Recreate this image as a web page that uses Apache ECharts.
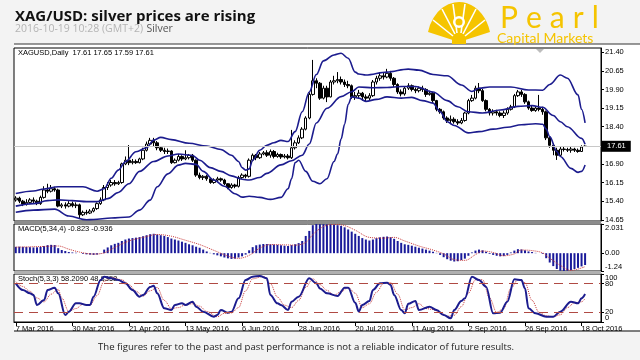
<!DOCTYPE html>
<html><head><meta charset="utf-8">
<script src="https://cdn.jsdelivr.net/npm/echarts@6/dist/echarts.min.js"></script>
<style>html,body{margin:0;padding:0;background:#f3f3f3;}#c{width:640px;height:360px;}</style>
</head><body><div id="c"></div>
<script>
// ---- data ----
const tickLabels = ['7 Mar 2016','30 Mar 2016','21 Apr 2016','13 May 2016','6 Jun 2016','28 Jun 2016','20 Jul 2016','11 Aug 2016','2 Sep 2016','26 Sep 2016','18 Oct 2016'];
const priceTicks = [14.65,15.40,16.15,16.90,17.65,18.40,19.15,19.90,20.65,21.40];
const priceLabels = [14.65,15.40,16.15,16.90,18.40,19.15,19.90,20.65,21.40];
const macdTicks = [-1.24,0,2.031];
const stochEdgeTicks = [0,100];
const stochLevels = [20,80];
// [open, close, low, high]
const ohlc = [
[15.45,15.52,15.38,15.60],[15.52,15.40,15.32,15.58],[15.40,15.28,15.20,15.45],[15.28,15.35,15.22,15.48],[15.35,15.45,15.30,15.52],
[15.45,15.40,15.32,15.55],[15.40,15.30,15.24,15.46],[15.30,15.55,15.25,15.62],[15.55,15.85,15.50,16.00],[15.85,15.80,15.72,16.10],
[15.80,15.90,15.75,16.05],[15.90,15.85,15.78,15.98],[15.85,15.20,15.15,15.90],[15.20,15.25,15.12,15.32],[15.25,15.20,15.10,15.35],
[15.20,15.30,15.15,15.40],[15.30,15.22,15.15,15.38],[15.22,15.25,15.12,15.35],[15.25,14.85,14.72,15.30],[14.85,14.95,14.80,15.02],
[14.95,14.92,14.85,15.05],[14.92,15.00,14.88,15.08],[15.00,15.10,14.95,15.15],[15.10,15.30,15.05,15.35],[15.30,15.45,15.25,15.55],
[15.45,15.95,15.40,16.05],[15.95,16.05,15.85,16.17],[16.05,16.15,15.98,16.25],[16.15,16.10,16.02,16.25],[16.10,16.15,16.05,16.22],
[16.15,16.90,16.10,16.95],[16.90,17.05,16.85,17.20],[17.05,16.95,16.85,17.66],[16.95,17.00,16.88,17.10],[17.00,16.95,16.90,17.08],
[16.95,17.10,16.92,17.15],[17.10,17.45,17.05,17.55],[17.45,17.70,17.40,17.80],[17.70,17.85,17.65,17.95],[17.85,17.75,17.62,17.95],
[17.75,17.55,17.45,17.82],[17.55,17.45,17.38,17.62],[17.45,17.40,17.30,17.55],[17.40,17.42,17.30,17.52],[17.42,16.95,16.90,17.45],
[16.95,17.05,16.92,17.12],[17.05,17.20,17.00,17.30],[17.20,17.10,17.02,17.25],[17.10,17.15,17.05,17.45],[17.15,17.25,17.08,17.30],
[17.25,17.05,16.98,17.30],[17.05,16.45,16.38,17.08],[16.45,16.35,16.28,16.55],[16.35,16.40,16.25,16.45],[16.40,16.30,16.22,16.45],
[16.30,16.15,16.10,16.35],[16.15,16.25,16.10,16.32],[16.25,16.30,16.18,16.38],[16.30,16.25,16.18,16.35],[16.25,16.10,16.05,16.30],
[16.10,15.95,15.88,16.12],[15.95,16.05,15.90,16.12],[16.05,16.00,15.92,16.10],[16.00,16.35,15.95,16.42],[16.35,16.45,16.30,16.52],
[16.45,16.40,16.32,16.50],[16.40,17.05,16.35,17.12],[17.05,17.25,17.00,17.32],[17.25,17.15,17.05,17.30],[17.15,17.30,17.10,17.38],
[17.30,17.35,17.25,17.42],[17.35,17.25,17.18,17.45],[17.25,17.40,17.15,17.48],[17.40,17.20,17.12,17.46],[17.20,17.28,17.15,17.35],
[17.28,17.18,17.10,17.32],[17.18,17.22,17.12,17.30],[17.22,17.15,17.08,17.30],[17.15,17.55,17.10,18.27],[17.55,17.75,17.48,17.85],
[17.75,17.95,17.70,18.05],[17.95,18.30,17.90,18.38],[18.30,18.75,18.25,18.82],[18.75,19.70,18.70,19.78],[19.70,20.25,19.65,21.09],
[20.25,20.15,19.95,20.35],[20.15,19.55,19.48,20.20],[19.55,19.95,19.50,20.05],[19.95,19.60,19.39,20.05],[19.60,20.20,19.58,20.28],
[20.20,20.25,20.10,20.45],[20.25,20.30,20.15,20.60],[20.30,20.20,20.10,20.42],[20.20,20.10,20.00,20.30],[20.10,20.05,19.95,20.25],
[20.05,19.60,19.52,20.10],[19.60,19.65,19.48,19.80],[19.65,19.75,19.55,19.88],[19.75,19.60,19.45,19.80],[19.60,19.55,19.42,19.70],
[19.55,19.65,19.45,19.75],[19.65,20.20,19.60,20.28],[20.20,20.35,20.10,20.45],[20.35,20.45,20.25,20.60],[20.45,20.40,20.30,20.60],
[20.40,20.55,20.35,20.73],[20.55,20.35,20.25,20.65],[20.35,20.10,20.00,20.40],[20.10,19.80,19.72,20.15],[19.80,19.72,19.62,19.90],
[19.72,19.95,19.65,20.02],[19.95,20.05,19.88,20.15],[20.05,19.90,19.82,20.10],[19.90,19.85,19.75,19.98],[19.85,19.95,19.78,20.02],
[19.95,19.90,19.80,20.05],[19.90,19.70,19.60,19.95],[19.70,19.75,19.65,19.85],[19.75,19.45,19.35,19.80],[19.45,19.10,19.02,19.48],
[19.10,19.00,18.92,19.15],[19.00,18.75,18.68,19.05],[18.75,18.65,18.55,18.82],[18.65,18.70,18.50,18.85],[18.70,18.60,18.52,18.78],
[18.60,18.55,18.47,18.70],[18.55,18.65,18.50,18.75],[18.65,18.95,18.60,19.00],[18.95,19.45,18.90,19.52],[19.45,19.55,19.40,19.68],
[19.55,19.95,19.50,20.05],[19.95,19.85,19.75,20.16],[19.85,19.45,19.40,19.92],[19.45,19.10,19.02,19.50],[19.10,18.95,18.85,19.15],
[18.95,19.00,18.85,19.10],[19.00,18.95,18.85,19.08],[18.95,18.85,18.78,19.02],[18.85,18.95,18.75,19.05],[18.95,19.10,18.88,19.18],
[19.10,19.20,19.05,19.28],[19.20,19.65,19.15,19.72],[19.65,19.80,19.60,19.88],[19.80,19.70,19.60,19.88],[19.70,19.40,19.32,19.75],
[19.40,19.15,19.08,19.45],[19.15,19.05,19.00,19.25],[19.05,19.15,19.00,19.22],[19.15,19.10,19.02,19.68],[19.10,19.00,18.88,19.20],
[19.00,17.95,17.86,19.05],[17.95,17.65,17.55,18.00],[17.65,17.45,17.25,17.72],[17.45,17.25,17.06,17.55],[17.25,17.50,17.20,17.58],
[17.50,17.48,17.40,17.62],[17.48,17.45,17.38,17.55],[17.45,17.50,17.35,17.58],[17.50,17.45,17.38,17.55],[17.45,17.40,17.35,17.52],
[17.40,17.58,17.38,17.65],[17.61,17.61,17.59,17.65]
];
// Bollinger bands: [barIndex, price]
const bbUpper = [[0,15.71],[5,15.81],[8,15.89],[12,15.98],[19,15.98],[23,15.80],[25,15.90],[27,16.32],[29,16.65],[31,16.99],[34,17.39],[37,17.55],[39,17.86],[41,17.97],[44,17.88],[49,17.73],[54,17.62],[58,17.48],[61,17.25],[63,17.0],[64,16.75],[65,16.65],[66,16.7],[67,17.05],[69,17.45],[71,17.65],[73,17.75],[75,17.85],[77,17.8],[79,18.2],[81,19.0],[83,19.8],[85,20.5],[87,21.05],[90,21.29],[92,21.36],[94,21.16],[96,20.6],[97,20.52],[99,20.48],[105,20.6],[111,20.72],[114,20.68],[118,20.5],[122,20.45],[126,20.08],[129,19.82],[131,19.95],[134,20.0],[140,20.0],[145,19.88],[149,19.87],[151,20.1],[154,20.48],[156,20.35],[159,19.68],[160,19.1],[161,18.55]];
const bbMiddle = [[0,15.2],[5,15.3],[9,15.42],[12,15.45],[16,15.42],[20,15.38],[23,15.38],[26,15.5],[29,15.75],[32,16.1],[35,16.6],[39,17.0],[43,17.22],[46,17.3],[50,17.24],[52,17.05],[55,16.75],[58,16.6],[61,16.42],[64,16.28],[66,16.25],[69,16.35],[71,16.52],[75,16.86],[78,17.03],[81,17.25],[83,17.7],[85,18.55],[88,19.14],[92,19.61],[95,19.81],[97,20.0],[101,19.97],[105,19.98],[109,20.02],[113,20.02],[118,19.8],[122,19.45],[125,19.2],[128,19.0],[132,18.95],[137,19.07],[142,19.22],[146,19.25],[149,19.18],[152,18.85],[154,18.6],[156,18.4],[160,17.93],[161,17.69]];
const bbLower = [[0,14.95],[5,15.04],[11,15.08],[15,14.8],[20,14.65],[22,14.66],[27,14.72],[32,14.76],[35,15.04],[38,15.44],[40,15.98],[43,16.5],[46,16.85],[48,16.92],[51,16.88],[53,16.6],[56,16.25],[59,16.0],[62,15.7],[64,15.56],[66,15.6],[69,15.55],[72,15.47],[75,15.55],[77,15.9],[78,16.3],[79,16.95],[80,17.05],[82,16.6],[84,16.2],[86,16.1],[88,16.3],[90,17.0],[91,17.3],[92,17.9],[93,18.5],[94,19.3],[95,19.6],[97,19.55],[99,19.42],[102,19.5],[105,19.6],[109,19.55],[112,19.58],[115,19.45],[118,19.35],[120,19.0],[122,18.6],[124,18.45],[128,18.15],[131,18.2],[135,18.3],[139,18.38],[143,18.48],[147,18.52],[149,18.5],[150,18.3],[151,18.0],[153,17.4],[154,17.2],[157,16.72],[159,16.56],[160,16.6],[161,16.86]];
const macdHist = [0.44,0.45,0.44,0.43,0.42,0.40,0.41,0.44,0.50,0.56,0.58,0.57,0.35,0.22,0.15,0.08,0.05,0.03,0.00,-0.05,-0.08,-0.10,-0.12,-0.10,-0.02,0.25,0.40,0.55,0.65,0.72,0.85,0.95,1.02,1.05,1.08,1.12,1.18,1.25,1.32,1.35,1.30,1.25,1.20,1.12,1.02,0.95,0.88,0.80,0.72,0.62,0.55,0.45,0.38,0.25,0.12,0.02,-0.08,-0.15,-0.22,-0.30,-0.36,-0.40,-0.38,-0.30,-0.22,-0.10,0.20,0.42,0.55,0.60,0.64,0.64,0.62,0.60,0.58,0.55,0.52,0.50,0.56,0.62,0.70,0.85,1.20,1.55,1.95,2.031,2.02,2.02,2.01,2.00,1.98,1.95,1.90,1.80,1.65,1.50,1.35,1.20,1.05,0.95,0.88,0.95,1.05,1.10,1.14,1.16,1.12,1.00,0.85,0.72,0.62,0.58,0.52,0.45,0.38,0.32,0.25,0.18,0.10,0.02,-0.12,-0.28,-0.42,-0.52,-0.58,-0.56,-0.48,-0.38,-0.18,0.05,0.18,0.25,0.20,0.10,-0.05,-0.12,-0.18,-0.22,-0.20,-0.12,0.05,0.18,0.28,0.26,0.20,0.12,0.08,0.02,0.00,-0.05,-0.35,-0.65,-0.90,-1.10,-1.22,-1.24,-1.22,-1.18,-1.10,-1.02,-0.92,-0.823];
const macdSignal = [[0,0.42],[8,0.47],[12,0.5],[15,0.28],[18,0.08],[22,-0.06],[25,0.02],[28,0.4],[32,0.85],[36,1.1],[40,1.3],[44,1.18],[48,0.9],[52,0.6],[56,0.2],[60,-0.2],[63,-0.36],[66,-0.15],[69,0.35],[72,0.6],[76,0.58],[79,0.56],[82,0.75],[84,1.3],[87,1.85],[90,2.0],[93,1.92],[96,1.6],[100,1.1],[104,1.05],[107,1.1],[110,0.85],[114,0.5],[118,0.22],[121,-0.05],[124,-0.45],[127,-0.5],[130,-0.1],[132,0.15],[135,0.05],[138,-0.18],[141,-0.05],[143,0.22],[146,0.18],[149,0.02],[151,-0.35],[154,-0.85],[157,-1.2],[161,-0.936]];
const stochMain = [[0,80.6],[2,66.7],[4,59.7],[5,56.3],[6,35.4],[8,45.8],[9,66.7],[11,71.5],[12,59.7],[14,14.6],[15,21.5],[17,38.9],[18,38.9],[20,35.4],[21,35.4],[22,52.8],[24,87.5],[25,94.4],[27,91],[29,87.5],[31,80.6],[33,66.7],[35,52.8],[36,56.3],[38,73],[39,75.7],[40,59.7],[42,28.5],[44,25],[45,35.4],[47,38.9],[48,35.4],[50,42.4],[51,31.9],[53,21.5],[56,11.1],[57,14.6],[58,25],[60,19.4],[61,21.5],[63,49.3],[65,87.5],[67,94.4],[69,95.8],[71,91],[72,56.3],[74,38.9],[75,35.4],[77,25],[78,42.4],[80,52.8],[83,91],[85,80.6],[86,70],[88,59.7],[91,54.2],[93,71.5],[94,71.5],[96,40],[97,22],[98,35.4],[100,43.8],[101,66.7],[103,80.6],[105,81.9],[106,77],[107,56.3],[109,25],[110,18.1],[111,38],[113,43.8],[114,25],[117,31.9],[119,25],[121,14.6],[123,7.6],[124,25],[126,43.8],[127,49.3],[129,94.4],[131,87.5],[133,73.6],[135,18.1],[137,19.4],[139,42.4],[141,88.9],[143,87.5],[144,70.1],[145,28.5],[147,18.1],[150,11.1],[152,11.1],[154,21.5],[157,42.4],[159,38.9],[160,49.3],[161,58.2]];
const stochSignal = [[0,84],[2,74],[4,64],[6,50],[8,42],[10,58],[12,68],[13,50],[15,22],[17,28],[19,37],[21,35],[23,55],[25,85],[27,93],[30,88],[32,78],[34,64],[36,54],[38,65],[40,72],[42,45],[44,28],[46,30],[48,36],[50,38],[52,33],[54,22],[57,11],[59,18],[61,19],[63,30],[65,65],[67,90],[70,95],[72,80],[74,52],[76,35],[78,30],[80,45],[82,72],[84,90],[86,78],[88,66],[90,56],[92,63],[94,72],[96,60],[98,30],[100,38],[102,62],[104,80],[106,82],[108,58],[110,25],[112,30],[114,38],[116,28],[118,26],[120,20],[122,12],[124,14],[126,32],[128,60],[130,88],[132,88],[134,50],[136,20],[138,28],[140,70],[142,88],[144,82],[146,45],[148,20],[150,13],[152,11],[154,15],[156,30],[158,40],[160,42],[161,48.8]];

// ---- categories: trading days (weekdays, Good Friday closed) + empty right shift ----
const MON = ['Jan','Feb','Mar','Apr','May','Jun','Jul','Aug','Sep','Oct','Nov','Dec'];
const categories = [];
(function(){
  const d = new Date(Date.UTC(2016,2,7));
  while (categories.length < ohlc.length) {
    const wd = d.getUTCDay();
    const holiday = d.getUTCMonth()===2 && d.getUTCDate()===25;
    if (wd!==0 && wd!==6 && !holiday) categories.push(d.getUTCDate()+' '+MON[d.getUTCMonth()]+' '+d.getUTCFullYear());
    d.setUTCDate(d.getUTCDate()+1);
  }
  for (let k=1;k<=4;k++) categories.push('shift'+k);
})();
const lastClose = ohlc[ohlc.length-1][1];

const NAVY = '#1c1c8e';
const RED = '#c83c3c';
const lblFont = {fontFamily:'Liberation Sans', fontSize:7.5, color:'#000'};
const showTick = (i) => i % 16 === 0 && i/16 < tickLabels.length;

const chart = echarts.init(document.getElementById('c'), null, {renderer:'canvas'});
const G = {left:14, right:39};
const hiddenX = (gi) => ({type:'category', gridIndex:gi, data:categories, boundaryGap:true, show:false});
const rightY = (gi, extra) => Object.assign({
  type:'value', gridIndex:gi, position:'right', scale:false, splitLine:{show:false},
  axisLine:{show:true, lineStyle:{color:'#000', width:1}}
}, extra);

chart.setOption({
  animation:false,
  backgroundColor:'#f3f3f3',
  grid:[
    {left:G.left, right:G.right, top:48, height:173, show:true, backgroundColor:'#fff', borderColor:'#000', borderWidth:1},
    {left:G.left, right:G.right, top:224, height:47, show:true, backgroundColor:'#fff', borderColor:'#000', borderWidth:1},
    {left:G.left, right:G.right, top:274, height:48, show:true, backgroundColor:'#fff', borderColor:'#000', borderWidth:1},
    {left:G.left, right:G.right, top:274, height:48, show:false}
  ],
  xAxis:[hiddenX(0), hiddenX(1), {
    type:'category', gridIndex:2, data:categories, boundaryGap:true,
    axisLine:{show:true, lineStyle:{color:'#000'}},
    axisTick:{show:true, alignWithLabel:true, length:4, interval:(i)=>showTick(i), lineStyle:{color:'#000'}},
    axisLabel:Object.assign({interval:(i)=>showTick(i), align:'left', margin:3, formatter:(v,i)=>tickLabels[i/16]||''}, lblFont)
  }, hiddenX(3)],
  yAxis:[
    rightY(0, {min:14.60, max:21.57,
      axisTick:{show:true, length:3, customValues:priceTicks, lineStyle:{color:'#000'}},
      axisLabel:Object.assign({customValues:priceLabels, margin:4, formatter:(v)=>v.toFixed(2)}, lblFont)}),
    rightY(1, {min:-1.24, max:2.031,
      axisTick:{show:true, length:3, customValues:macdTicks, lineStyle:{color:'#000'}},
      axisLabel:Object.assign({customValues:macdTicks, margin:4, showMinLabel:true, showMaxLabel:true, hideOverlap:false,
        verticalAlignMinLabel:'bottom', verticalAlignMaxLabel:'top',
        formatter:(v)=> v===0 ? '0.00' : (v===2.031 ? '2.031' : v.toFixed(2))}, lblFont)}),
    rightY(2, {min:0, max:100,
      axisTick:{show:true, length:3, customValues:stochEdgeTicks, lineStyle:{color:'#000'}},
      axisLabel:Object.assign({customValues:stochEdgeTicks, margin:4, showMinLabel:true, showMaxLabel:true, hideOverlap:false,
        verticalAlignMinLabel:'bottom', verticalAlignMaxLabel:'top', formatter:(v)=>String(v)}, lblFont)}),
    rightY(3, {min:0, max:100, axisLine:{show:false},
      axisTick:{show:true, length:3, customValues:stochLevels, lineStyle:{color:'#000'}},
      axisLabel:Object.assign({customValues:stochLevels, margin:4, showMinLabel:true, showMaxLabel:true, hideOverlap:false, formatter:(v)=>String(v)}, lblFont)})
  ],
  series:[
    {type:'candlestick', xAxisIndex:0, yAxisIndex:0, data:ohlc, barWidth:3,
     itemStyle:{color:'#ffffff', color0:'#000000', borderColor:'#000000', borderColor0:'#000000', borderWidth:1},
     markLine:{silent:true, symbol:'none', animation:false,
       lineStyle:{color:'#c8c8c8', width:1, type:'solid'},
       label:{show:true, position:'end', formatter:()=>lastClose.toFixed(2), color:'#fff', backgroundColor:'#000', padding:[2,5,1,5], fontSize:7.5, fontFamily:'Liberation Sans', distance:1},
       data:[{yAxis:lastClose}]}},
    {type:'line', xAxisIndex:0, yAxisIndex:0, data:bbUpper, smooth:0.35, smoothMonotone:'x', symbol:'none', lineStyle:{color:NAVY, width:1.6}},
    {type:'line', xAxisIndex:0, yAxisIndex:0, data:bbMiddle, smooth:0.35, smoothMonotone:'x', symbol:'none', lineStyle:{color:NAVY, width:1.6}},
    {type:'line', xAxisIndex:0, yAxisIndex:0, data:bbLower, smooth:0.35, smoothMonotone:'x', symbol:'none', lineStyle:{color:NAVY, width:1.6}},
    {type:'bar', xAxisIndex:1, yAxisIndex:1, data:macdHist, barWidth:2, itemStyle:{color:'#1a1a9a'}},
    {type:'line', xAxisIndex:1, yAxisIndex:1, data:macdSignal, smooth:0.35, symbol:'none', lineStyle:{color:RED, width:1, type:'dotted'}},
    {type:'line', xAxisIndex:2, yAxisIndex:2, data:stochSignal, smooth:0.35, smoothMonotone:'x', symbol:'none', lineStyle:{color:RED, width:1, type:'dotted'}},
    {type:'line', xAxisIndex:2, yAxisIndex:2, data:stochMain, smooth:0.35, smoothMonotone:'x', symbol:'none', lineStyle:{color:NAVY, width:2},
     markLine:{silent:true, symbol:'none', animation:false, label:{show:false},
       lineStyle:{color:'#b04a44', width:1, type:[9,6]}, data:stochLevels.map(v=>({yAxis:v}))}}
  ],
  graphic:[
    {type:'rect', z:-10, shape:{x:14, y:44, width:626, height:287}, style:{fill:'#ffffff'}},
    {type:'line', shape:{x1:14, y1:44, x2:640, y2:44}, style:{stroke:'#333', lineWidth:1}},
    {type:'line', shape:{x1:14, y1:331, x2:640, y2:331}, style:{stroke:'#555', lineWidth:1.5}},
    {type:'rect', shape:{x:14, y:221, width:587, height:3}, style:{fill:'#8c8c8c'}},
    {type:'rect', shape:{x:14, y:271, width:587, height:3}, style:{fill:'#b0b0b0'}},
    {type:'polygon', shape:{points:[[536,49],[544,49],[540,53]]}, style:{fill:'#bdbdbd'}},
    {type:'text', x:15, y:17, style:{text:'XAG/USD: silver prices are rising', fontFamily:'Open Sans', fontWeight:'bold', fontSize:15, fill:'#111', verticalAlign:'middle'}},
    {type:'text', x:15, y:29.5, style:{text:'{a|2016-10-19 10:28 (GMT+2)} {b|Silver}', verticalAlign:'middle',
      rich:{a:{fontFamily:'Open Sans', fontSize:10.5, fill:'#b4b4b4'}, b:{fontFamily:'Open Sans', fontSize:10.5, fill:'#555'}}}},
    {type:'text', x:18, y:53, style:{text:'XAGUSD,Daily  17.61 17.65 17.59 17.61', fontFamily:'Liberation Sans', fontSize:7.5, fill:'#000', verticalAlign:'middle'}},
    {type:'text', x:18, y:229, style:{text:'MACD(5,34,4) -0.823 -0.936', fontFamily:'Liberation Sans', fontSize:7.5, fill:'#000', verticalAlign:'middle'}},
    {type:'text', x:18, y:279, style:{text:'Stoch(5,3,3) 58.2090 48.8358', fontFamily:'Liberation Sans', fontSize:7.5, fill:'#000', verticalAlign:'middle'}},
    {type:'text', x:306, y:347, style:{text:'The figures refer to the past and past performance is not a reliable indicator of future results.', fontFamily:'Open Sans', fontSize:9.6, fill:'#222', align:'center', verticalAlign:'middle'}},
    // logo
    {type:'group', x:459, y:42, children:[
      {type:'sector', scaleX:0.8, shape:{cx:0, cy:0, r:40, r0:0, startAngle:Math.PI*1.08, endAngle:Math.PI*1.92}, style:{fill:'#f5c400'}},
      {type:'line', shape:{x1:-6, y1:-6, x2:-26, y2:-22}, style:{stroke:'#fff', lineWidth:1.6}},
      {type:'line', shape:{x1:-4, y1:-8, x2:-17, y2:-33}, style:{stroke:'#fff', lineWidth:1.6}},
      {type:'line', shape:{x1:-2, y1:-9, x2:-6, y2:-38}, style:{stroke:'#fff', lineWidth:1.6}},
      {type:'line', shape:{x1:2, y1:-9, x2:6, y2:-38}, style:{stroke:'#fff', lineWidth:1.6}},
      {type:'line', shape:{x1:4, y1:-8, x2:17, y2:-33}, style:{stroke:'#fff', lineWidth:1.6}},
      {type:'line', shape:{x1:6, y1:-6, x2:26, y2:-22}, style:{stroke:'#fff', lineWidth:1.6}},
      {type:'circle', shape:{cx:0, cy:-20, r:6}, style:{fill:'#fff'}},
      {type:'circle', shape:{cx:0, cy:-20, r:3.5}, style:{fill:'#f5c400'}},
      {type:'rect', shape:{x:-7, y:-4, width:14, height:6}, style:{fill:'#f5c400'}}
    ]},
    {type:'text', x:496, y:18, style:{text:'{p|P}{p|e}{p|a}{p|r}{p|l}', verticalAlign:'middle',
      rich:{p:{fontFamily:'Lato', fontSize:30, fill:'#f5c400', padding:[0,4,0,4]}}}},
    {type:'text', x:497, y:38, style:{text:'Capital Markets', fontFamily:'Lato', fontSize:14, fill:'#f5c400', verticalAlign:'middle'}}
  ]
});
</script></body></html>
